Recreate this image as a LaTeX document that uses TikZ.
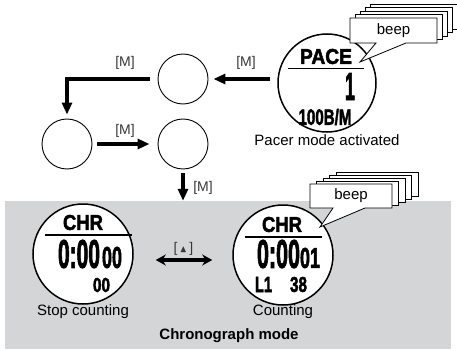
\documentclass[tikz,border=0pt]{standalone}
\usepackage{amssymb}
\usepackage{fontspec}
\setmainfont{Liberation Sans}
\newfontfamily\lcdfont{Liberation Sans}[BoldFeatures={FakeBold=2.5}]
\usepackage{tikz}
\usetikzlibrary{arrows.meta, calc, positioning}
\definecolor{panelgray}{RGB}{212,213,215}
\definecolor{keygray}{RGB}{55,55,55}
\newcommand{\lcd}[3]{\resizebox{#1}{#2}{\lcdfont\bfseries #3}}
\tikzstyle{dial} = [circle, draw=black, line width=1.5pt, fill=white,
minimum size=98pt, inner sep=0pt]
\tikzstyle{emptydial} = [circle, draw=black, line width=0.9pt,
minimum size=50pt, inner sep=0pt]
\tikzstyle{lcdtxt} = [inner sep=0pt]
\tikzstyle{divider} = [line width=1.8pt]
\tikzstyle{caption} = [inner sep=0pt, font=\fontsize{15}{18}\selectfont]
\tikzstyle{keylbl} = [inner sep=0pt, text=keygray, font=\fontsize{14}{16}\selectfont]
\tikzstyle{bigarrow} = [line width=4.5pt, -{Triangle[length=12pt,width=10pt]}]
\tikzstyle{swaparrow} = [line width=3.2pt,
{Stealth[length=10pt,width=11pt]}-{Stealth[length=10pt,width=11pt]}]
\tikzstyle{bubble} = [draw=black, fill=white, line width=0.8pt]
\tikzstyle{panel} = [fill=panelgray, minimum width=446pt,
minimum height=148pt, inner sep=0pt]
\begin{document}
\begin{tikzpicture}[x=1pt, y=-1pt, node distance=2cm]
    \useasboundingbox (0,0) rectangle (457,350);
    % chronograph area
    \node (chrono) [panel] at (228,275) {};
    \node (chronolbl) [caption, anchor=base, font=\fontsize{15}{18}\selectfont\bfseries] at (229,339) {Chronograph mode};

    % dials
    \node (pace) [dial] at (327,83) {};
    \node (m1) [emptydial] at (183,79) {};
    \node (m2) [emptydial] at (67,144) {};
    \node (m3) [emptydial] at (183,144) {};
    \node (stop) [dial, minimum size=100pt] at (83,254) {};
    \node (cnt) [dial, minimum size=100pt] at (283,255) {};

    % pacer display
    \node (pacehdr) [lcdtxt] at (326,56.5) {\lcd{52pt}{15pt}{PACE}};
    \draw [divider] (288,68.5) -- (364,68.5);
    \node (paceval) [lcdtxt] at (350,86.5) {\lcd{10pt}{27pt}{1}};
    \node (pacerate) [lcdtxt] at (325,117) {\lcd{53pt}{16pt}{100B/M}};
    \node (pacelbl) [caption, below of=pace, node distance=57pt] {Pacer mode activated};

    % stopped display
    \node (stophdr) [lcdtxt] at (83,222.5) {\lcd{40pt}{15pt}{CHR}};
    \draw [divider] (45,235) -- (132,235);
    \node (stoptime) [lcdtxt] at (79,254) {\lcd{42pt}{28pt}{0:00}};
    \node (stophund) [lcdtxt] at (112,257.5) {\lcd{20pt}{21pt}{00}};
    \node (stoplap) [lcdtxt] at (101.5,285) {\lcd{17pt}{14pt}{00}};
    \node (stoplbl) [caption, below of=stop, node distance=58pt] {Stop counting};

    % counting display
    \node (cnthdr) [lcdtxt] at (282,224.5) {\lcd{40pt}{15pt}{CHR}};
    \draw [divider] (245,237) -- (322,237);
    \node (cnttime) [lcdtxt] at (278.5,254) {\lcd{43pt}{28pt}{0:00}};
    \node (cnthund) [lcdtxt] at (310,258) {\lcd{20pt}{20pt}{01}};
    \node (cntlap) [lcdtxt] at (263.5,284.5) {\lcd{17pt}{15pt}{L1}};
    \node (cntbpm) [lcdtxt] at (298.5,284.5) {\lcd{17pt}{15pt}{38}};
    \node (cntlbl) [caption, below of=cnt, node distance=57pt] {Counting};

    % arrows
    \draw [bigarrow] ($(pace.west |- m1)+(-7,0)$) -- ($(m1.east)+(5,0)$);
    \draw [bigarrow] ($(m1.west)+(-8,0)$) -| ($(m2.north)+(0,-4)$);
    \draw [bigarrow] ($(m2.east)+(5,0)$) -- ($(m3.west)+(-8,0)$);
    \draw [bigarrow] ($(m3.south)+(0,4)$) -- (m3 |- chrono.north);
    \draw [swaparrow] ($(stop.east)+(22,6)$) -- ($(cnt.west)+(-20,5)$);

    % key labels
    \node (k1) [keylbl] at (246,63) {[M]};
    \node (k2) [keylbl] at (125,63) {[M]};
    \node (k3) [keylbl] at (125,131) {[M]};
    \node (k4) [keylbl] at (203,188) {[M]};
    \node (k5) [keylbl] at (183.5,249) {[\,$\scriptstyle\blacktriangle$\,]};

    % beep bubbles
    \coordinate (bA) at (393.5,30.5);
    \coordinate (tipA) at (360,62);
    \foreach \i in {4,3,2,1}
        \draw [bubble] ($(bA)+(-43.5+5*\i,-12.5-3.4*\i)$) rectangle ++(87,25);
    \draw [bubble] ($(bA)+(-43.5,-12.5)$) -- ++(87,0) -- ++(0,25) -- ($(bA)+(12.5,12.5)$)
        -- (tipA) -- ($(bA)+(-17.5,12.5)$) -- ($(bA)+(-43.5,12.5)$) -- cycle;
    \node (beepA) [caption] at (bA) {beep};

    \coordinate (bB) at (351,196);
    \coordinate (tipB) at (320,227);
    \foreach \i in {4,3,2,1}
        \draw [bubble] ($(bB)+(-41+6.5*\i,-12-3*\i)$) rectangle ++(82,24);
    \draw [bubble] ($(bB)+(-41,-12)$) -- ++(82,0) -- ++(0,24) -- ($(bB)+(14,12)$)
        -- (tipB) -- ($(bB)+(-18,12)$) -- ($(bB)+(-41,12)$) -- cycle;
    \node (beepB) [caption] at (bB) {beep};
\end{tikzpicture}
\end{document}
